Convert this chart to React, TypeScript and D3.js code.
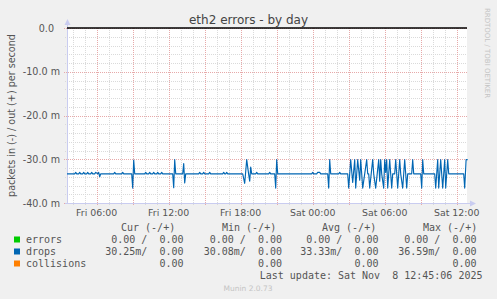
import React from "react";
import * as d3 from "d3";

// ---- data ----
// minutes since Fri 2025-11-07 00:00 (local), value in milli-packets/s (negative = in)
const BASE = -33.33;
const BUMP = -33.0;
const dropsIn: [number, number][] = [
  [210, BASE],
  [250, BASE], [255, BUMP], [260, BASE],
  [270, BASE], [275, BUMP], [280, BASE],
  [290, BASE], [295, BUMP], [300, BASE],
  [310, BASE], [315, BUMP], [320, BASE],
  [330, BASE], [335, BUMP], [340, BASE],
  [350, BASE], [355, BUMP], [365, BASE], [370, -33.0], [375, -34.0], [380, BASE],
  [445, BASE], [450, BUMP], [455, BASE],
  [485, BASE], [490, BUMP], [495, BASE],
  [535, BASE], [540, -36.59], [545, -30.2], [550, BASE],
  [600, BASE], [605, BUMP], [610, BASE],
  [620, BASE], [625, BUMP], [630, BASE],
  [640, BASE], [645, BUMP], [650, BASE],
  [660, BASE], [665, BUMP], [670, BASE],
  [680, BASE], [685, BUMP], [690, BASE],
  [740, BASE], [745, -36.5], [750, -30.1], [755, BASE],
  [790, BASE], [795, -31.0], [800, -35.4], [805, BASE],
  [870, BASE], [875, BUMP], [880, BASE],
  [890, BASE], [895, BUMP], [900, BASE],
  [920, BASE], [925, BUMP], [930, BASE],
  [990, BASE], [995, BUMP], [1000, BASE],
  [1005, BASE], [1010, BUMP], [1015, BASE],
  [1090, BASE], [1100, -35.5], [1110, -30.1], [1120, -33.5], [1125, -35.0], [1130, -31.8], [1135, BASE],
  [1155, BASE], [1160, BUMP], [1165, BASE],
  [1220, BASE], [1225, BUMP], [1230, BASE],
  [1250, BASE], [1255, -36.59], [1260, -30.1], [1265, BASE],
  [1435, BASE], [1440, BUMP], [1445, BASE],
  [1460, BASE], [1465, BUMP], [1470, BUMP], [1475, BUMP], [1480, BASE],
  [1515, BASE], [1520, -36.59], [1525, -30.1], [1530, BASE],
  [1570, BASE], [1575, BUMP], [1580, BASE],
  [1615, BASE], [1620, -36.59], [1630, -30.1], [1640, -35.3], [1650, -30.1], [1655, -36.59],
  [1665, -30.1], [1675, -34.8], [1680, -30.1], [1690, -36.59], [1710, -30.1], [1715, BASE],
  [1720, BASE], [1725, -36.59], [1740, -30.08], [1745, BASE], [1755, -36.59], [1770, -30.1],
  [1775, -35.0], [1780, -30.1], [1785, BASE], [1795, -36.59], [1800, -30.1], [1805, -33.0],
  [1810, -30.1], [1815, -36.59], [1825, -30.1], [1835, -36.59], [1840, BASE], [1850, BASE],
  [1855, -30.1], [1865, -36.59], [1875, -30.1], [1880, BASE], [1890, -36.59], [1900, -30.1],
  [1910, -36.59], [1915, BASE], [1935, BASE], [1940, -30.1], [1945, BASE],
  [1980, BASE], [1985, -36.59], [1990, -30.1], [1995, BASE],
  [2050, BASE], [2055, -36.59], [2065, -30.1], [2070, -36.59], [2080, -30.1], [2090, -36.59],
  [2100, -30.1], [2105, -36.59], [2115, -30.1], [2120, BASE],
  [2195, BASE], [2200, -36.59], [2207, -30.1], [2215, -30.1],
];

const yTicks = [0, -10, -20, -30, -40];
const yTickLabels = ["0.0", "-10.0 m", "-20.0 m", "-30.0 m", "-40.0 m"];

const legendNames = ["errors", "drops", "collisions"];
const legendColors = ["#00cc00", "#0066b3", "#ff8000"];
const curCol = ["0.00 /  0.00", "30.25m/  0.00", "0.00"];
const minCol = ["0.00 /  0.00", "30.08m/  0.00", "0.00"];
const avgCol = ["0.00 /  0.00", "33.33m/  0.00", "0.00"];
const maxCol = ["0.00 /  0.00", "36.59m/  0.00", "0.00"];
const colHeaders = ["Cur (-/+)", "Min (-/+)", "Avg (-/+)", "Max (-/+)"];

const START_MIN = 211.5;
const END_MIN = 2211.5;

export default function App() {
  const W = 497, H = 299;
  const x0 = 67, x1 = 467, yTop = 28, yBot = 203;
  const base = new Date(2025, 10, 7, 0, 0, 0).getTime();
  const toDate = (m: number) => new Date(base + m * 60000);
  const x = d3.scaleTime().domain([toDate(START_MIN), toDate(END_MIN)]).range([x0, x1]);
  const y = d3.scaleLinear().domain([-40, 0]).range([yBot, yTop]);

  const px = (v: number) => Math.round(v) + 0.5;

  const hours = x.ticks(d3.timeHour.every(1)!);
  const minorH = d3.range(-40, 0.001, 2);

  const line = d3
    .line<[number, number]>()
    .x((d) => x(toDate(d[0])))
    .y((d) => y(d[1]));

  const sans = "DejaVu Sans, sans-serif";
  const mono = "DejaVu Sans Mono, monospace";
  const fmt = d3.timeFormat("%a %H:%M");

  const colRight = [183.5, 282, 378.5, 476.5];
  const colHeadX = [121, 222, 322, 423];
  const rowY = [243, 255, 267];

  return (
    <svg
      width={W}
      height={H}
      style={{ position: "absolute", left: 0, top: 0, background: "#f0f0f0" }}
      xmlSpace="preserve"
    >
      <rect x={0} y={0} width={W} height={H} fill="#f0f0f0" />
      <rect x={x0} y={yTop} width={x1 - x0} height={yBot - yTop} fill="#ffffff" />
      <defs>
        <clipPath id="plotclip">
          <rect x={x0} y={yTop - 2} width={x1 - x0 + 1} height={yBot - yTop + 4} />
        </clipPath>
      </defs>

      {/* horizontal grid */}
      {minorH.map((v) => {
        const major = Math.abs(v % 10) < 1e-6;
        return (
          <line
            key={"h" + v}
            x1={major ? x0 - 3 : x0 - 2}
            x2={x1}
            y1={px(y(v))}
            y2={px(y(v))}
            stroke={major ? "#e7a9a9" : "#dadada"}
            strokeDasharray="1,1"
            strokeWidth={1}
          />
        );
      })}
      {/* vertical grid */}
      {hours.map((t) => {
        const major = t.getHours() % 3 === 0;
        const xx = px(x(t));
        return (
          <line
            key={"v" + t.getTime()}
            x1={xx}
            x2={xx}
            y1={yTop}
            y2={major ? yBot + 3 : yBot + 2}
            stroke={major ? "#e7a9a9" : "#dadada"}
            strokeDasharray="1,1"
            strokeWidth={1}
          />
        );
      })}

      {/* axes */}
      <line x1={px(x0)} x2={px(x0)} y1={yBot + 1} y2={yTop - 4} stroke="#c9ccf0" strokeWidth={1} />
      <path d={`M${x0 - 2.5},${yTop - 3} L${x0 + 3.5},${yTop - 3} L${x0 + 0.5},${yTop - 9} Z`} fill="#c9ccf0" />
      <line x1={x0 - 2} x2={x1 + 4} y1={px(yBot)} y2={px(yBot)} stroke="#c9ccf0" strokeWidth={1} />
      <path d={`M${x1 + 3},${yBot - 2.5} L${x1 + 3},${yBot + 3.5} L${x1 + 9},${yBot + 0.5} Z`} fill="#c9ccf0" />

      {/* data */}
      <g clipPath="url(#plotclip)">
        <path d={line(dropsIn) || ""} fill="none" stroke="#0066b3" strokeWidth={1.15} strokeLinejoin="round" />
        <line x1={x0} x2={x1} y1={y(0)} y2={y(0)} stroke="#000000" strokeWidth={1.5} />
      </g>

      {/* y tick labels */}
      {yTicks.map((v, i) => (
        <text
          key={"yl" + v}
          x={v === 0 ? 54 : 60}
          y={y(v) + 3.5}
          textAnchor="end"
          fontFamily={sans}
          fontSize={9.6}
          fill="#555555"
        >
          {yTickLabels[i]}
        </text>
      ))}

      {/* x labels */}
      {hours
        .filter((t) => t.getHours() % 6 === 0)
        .map((t) => (
          <text
            key={"xl" + t.getTime()}
            x={x(t)}
            y={215.5}
            textAnchor="middle"
            fontFamily={sans}
            fontSize={9.4}
            fill="#555555"
          >
            {fmt(t)}
          </text>
        ))}

      {/* title */}
      <text x={248.5} y={23.5} textAnchor="middle" fontFamily={sans} fontSize={12} fill="#444444">
        eth2 errors - by day
      </text>

      {/* y axis title */}
      <text
        transform={`translate(15,115.5) rotate(-90)`}
        textAnchor="middle"
        fontFamily={sans}
        fontSize={9.6}
        fill="#555555"
      >
        packets in (-) / out (+) per second
      </text>

      {/* watermark */}
      <text
        transform={`translate(485,53) rotate(90)`}
        textAnchor="middle"
        fontFamily={sans}
        fontSize={7}
        fill="#c4c4c4"
      >
        RRDTOOL / TOBI OETIKER
      </text>

      {/* legend */}
      {colHeaders.map((h, i) => (
        <text key={"ch" + i} x={colHeadX[i]} y={231} fontFamily={mono} fontSize={10} fill="#555555" style={{ whiteSpace: "pre" }}>
          {h}
        </text>
      ))}
      {legendNames.map((n, i) => (
        <g key={"lg" + n}>
          <rect x={14} y={rowY[i] - 6.5} width={6} height={6} fill={legendColors[i]} />
          <text x={26} y={rowY[i]} fontFamily={mono} fontSize={10} fill="#555555">
            {n}
          </text>
          {[curCol, minCol, avgCol, maxCol].map((col, j) => (
            <text
              key={"c" + j}
              x={colRight[j]}
              y={rowY[i]}
              textAnchor="end"
              fontFamily={mono}
              fontSize={10}
              fill="#555555"
              style={{ whiteSpace: "pre" }}
            >
              {col[i]}
            </text>
          ))}
        </g>
      ))}
      <text x={482.5} y={279} textAnchor="end" fontFamily={mono} fontSize={10} fill="#555555" style={{ whiteSpace: "pre" }}>
        {"Last update: Sat Nov  8 12:45:06 2025"}
      </text>
      <text x={248} y={290.5} textAnchor="middle" fontFamily={sans} fontSize={7.5} fill="#c4c4c4">
        Munin 2.0.73
      </text>
    </svg>
  );
}
